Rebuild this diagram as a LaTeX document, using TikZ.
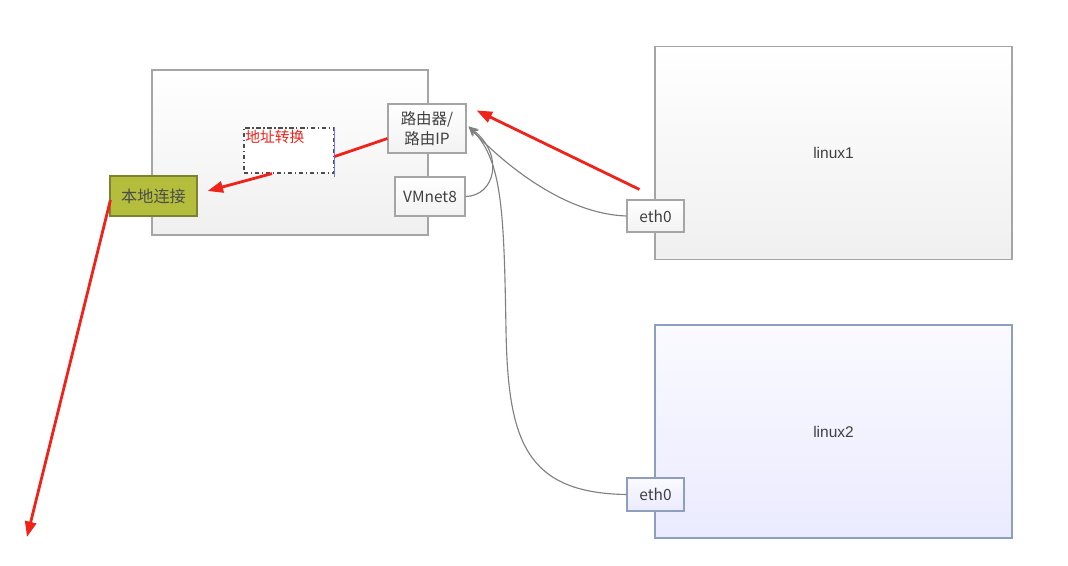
\documentclass[tikz,border=0pt]{standalone}
\usepackage{fontspec}
\setmainfont{Liberation Sans}
\newfontfamily\cjk{Noto Sans CJK SC}
\usetikzlibrary{calc,arrows.meta}
\definecolor{natred}{HTML}{F0231B}
\definecolor{boxgray}{HTML}{A5A5A5}
\definecolor{olive}{HTML}{B4BE3C}
\definecolor{olivedark}{HTML}{7C8230}
\definecolor{bluegray}{HTML}{8E9FBE}
\tikzset{
    hostbox/.style={draw=boxgray, thick, top color=white, bottom color=gray!12, inner sep=0pt},
    portbox/.style={draw=boxgray, thick, top color=white, bottom color=gray!10, text=black!75, font=\cjk\fontsize{11pt}{14pt}\selectfont, inner sep=0pt, align=center},
    redarrow/.style={natred, line width=2pt, -{Triangle[length=11pt,width=8pt]}},
    redline/.style={natred, line width=2pt},
    wire/.style={gray, thick, -{Stealth[length=7pt,width=6pt,inset=2.5pt]}}
}
\begin{document}
\begin{tikzpicture}[x=0.025cm, y=-0.025cm]
    \useasboundingbox (0,0) rectangle (1068,566);

    % Hosts
    \node[hostbox, minimum width=6.9cm, minimum height=4.125cm] (host) at (290,152.5) {};
    \node[hostbox, minimum width=8.925cm, minimum height=5.325cm, text=black!75, font=\fontsize{11pt}{13pt}\selectfont] (linuxA) at (833.5,153) {linux1};
    \node[hostbox, draw=bluegray, top color=blue!2, bottom color=blue!8, minimum width=8.925cm, minimum height=5.325cm, text=black!75, font=\fontsize{11pt}{13pt}\selectfont] (linuxB) at (833.5,431.5) {linux2};

    % Ports
    \node[portbox, minimum width=1.95cm, minimum height=1.225cm] (router) at (427,128.5) {路由器/\\路由IP};
    \node[portbox, minimum width=1.75cm, minimum height=0.975cm] (vmnet) at (430,196.5) {VMnet8};
    \node[portbox, minimum width=1.425cm, minimum height=0.8cm] (ethA) at (655.5,216) {eth0};
    \node[portbox, draw=bluegray, top color=blue!2, bottom color=blue!8, minimum width=1.425cm, minimum height=0.825cm] (ethB) at (655.5,494.5) {eth0};
    \node[draw=olivedark, fill=olive, thick, minimum width=2.175cm, minimum height=1.0cm, text=black!70, font=\cjk\fontsize{11.5pt}{14pt}\selectfont] (local) at (153.5,196) {本地连接};

    % Address translation
    \node[draw=black!70, fill=white, thick, dash dot, minimum width=2.25cm, minimum height=1.125cm] (nat) at (289,150.5) {};
    \node[natred, font=\cjk\fontsize{10.5pt}{12pt}\selectfont, anchor=west, inner sep=0pt] (nattext) at (245,137) {地址转换};
    \draw[blue!55, thick] (nat.north east) -- ($(nat.south east)+(0,3)$);

    % Gray links
    \draw[wire] (ethA.west) .. controls (565,214) and (505,165) .. ($(router.east)+(2,-2)$);
    \draw[wire] (vmnet.east) .. controls (495,196) and (505,155) .. ($(router.east)+(2,-2)$);
    \draw[wire] (ethB.west) .. controls (525,493) and (508,440) .. (506,330)
        .. controls (504,210) and (502,160) .. ($(router.east)+(2,-2)$);

    % Red path
    \coordinate (bottomend) at (27,537);
    \draw[redarrow] ($(ethA.north west)+(13,-10)$) -- ($(router.north east)+(10,7)$);
    \draw[redline] ($(router.west)+(0,10)$) -- ($(nat.east)+(0,6)$);
    \draw[redarrow] ($(nat.south)+(-17,0)$) -- ($(local.east)+(10,-5)$);
    \draw[redarrow] ($(local.west)+(1,4)$) -- (bottomend);
\end{tikzpicture}
\end{document}
